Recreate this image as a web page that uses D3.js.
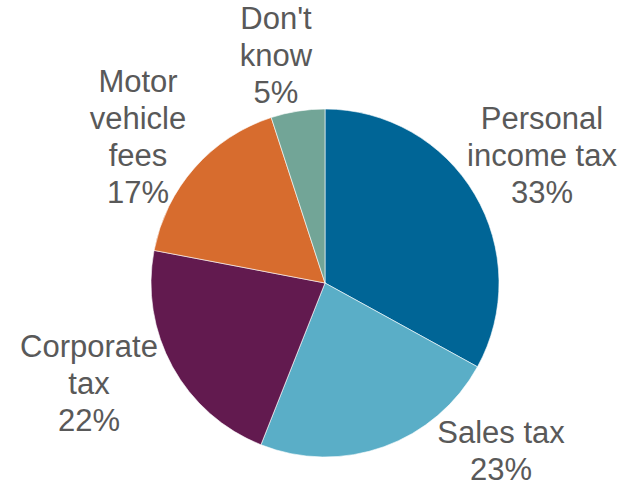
<!DOCTYPE html>
<html>
<head>
<meta charset="utf-8">
<script src="https://cdn.jsdelivr.net/npm/d3@7"></script>
<style>
  html, body { margin: 0; padding: 0; background: #fff; }
  svg { display: block; }
  .lbl { font-family: "Liberation Sans", Arial, sans-serif; font-size: 31px; fill: #595959; }
</style>
</head>
<body>
<svg id="chart" width="634" height="485"></svg>
<script>
// Pie chart of revenue sources, clockwise from 12 o'clock.

const categories = ["Personal income tax", "Sales tax", "Corporate tax", "Motor vehicle fees", "Don't know"];
const values = [33, 23, 22, 17, 5];
const labelLines = [
  ["Personal", "income tax"],
  ["Sales tax"],
  ["Corporate", "tax"],
  ["Motor", "vehicle", "fees"],
  ["Don't", "know"]
];

const colors = ["#006596", "#5aaec7", "#621a4f", "#d76c2e", "#72a597"];

// label anchor (center x, first baseline) — placed like the original's outside labels
const labelPos = [
  [542, 129],
  [501, 443],
  [89, 357],
  [138, 92],
  [276, 29]
];
const LINE_H = 37;

const CX = 325, CY = 283, R = 174;

const svg = d3.select("#chart");
const g = svg.append("g").attr("transform", `translate(${CX},${CY})`);

const pie = d3.pie().sort(null).value(d => d.value);
const arc = d3.arc().innerRadius(0).outerRadius(R);

const data = categories.map((c, i) => ({ name: c, value: values[i], i }));

g.selectAll("path")
  .data(pie(data))
  .enter().append("path")
  .attr("d", arc)
  .attr("fill", d => colors[d.data.i])
  .attr("stroke", "#fff")
  .attr("stroke-width", 0.6);

const labels = svg.append("g").selectAll("text")
  .data(data)
  .enter().append("text")
  .attr("class", "lbl")
  .attr("text-anchor", "middle")
  .attr("x", d => labelPos[d.i][0])
  .attr("y", d => labelPos[d.i][1]);

labels.each(function(d) {
  const t = d3.select(this);
  const lines = labelLines[d.i].concat([d.value + "%"]);
  lines.forEach((s, k) => {
    t.append("tspan")
      .attr("x", labelPos[d.i][0])
      .attr("dy", k === 0 ? 0 : LINE_H)
      .text(s);
  });
});
</script>
</body>
</html>
